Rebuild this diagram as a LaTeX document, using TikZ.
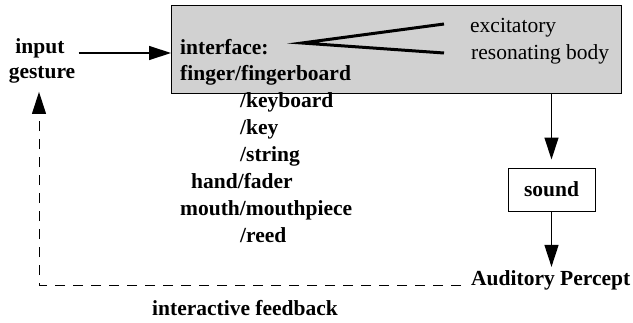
\documentclass[tikz,border=0pt]{standalone}
\usepackage{fontspec}
\setmainfont{Liberation Serif}
\usetikzlibrary{arrows.meta}
\begin{document}
\begin{tikzpicture}[x=1pt,y=-1pt,
  txt/.style={inner sep=0pt,font=\fontsize{21.5}{26}\selectfont\bfseries},
  rtxt/.style={inner sep=0pt,font=\fontsize{21.5}{26}\selectfont},
  arr/.style={line width=1.3pt,-{Triangle[length=22pt,width=14pt]}},
  fb/.style={line width=1pt,dash pattern=on 10pt off 8pt,-{Triangle[length=22pt,width=14pt]}},
  wedge/.style={line width=3pt},
  boxfill/.style={draw,line width=1pt,fill=black!18,inner sep=0pt}]
\useasboundingbox (0,0) rectangle (633,322);

% interface box
\node[boxfill,anchor=north west,minimum width=450pt,minimum height=88pt] (box) at (171,5) {};

% input gesture
\node[txt,anchor=base] (input) at (40,53) {input};
\node[txt,anchor=base] (gesture) at (42,78) {gesture};

% interface text
\node[txt,anchor=base west] (iface) at (180,54) {interface:};
\node[txt,anchor=base west] (finger) at (180,80) {finger/fingerboard};
\node[txt,anchor=base west] (keyboard) at (240,107) {/keyboard};
\node[txt,anchor=base west] (key) at (240,134) {/key};
\node[txt,anchor=base west] (string) at (240,161) {/string};
\node[txt,anchor=base west] (hand) at (191,188) {hand/fader};
\node[txt,anchor=base west] (mouth) at (180,215) {mouth/mouthpiece};
\node[txt,anchor=base west] (reed) at (240,242) {/reed};

% excitation and resonance
\node[rtxt,anchor=base west] (exc) at (470,32) {excitatory};
\node[rtxt,anchor=base west] (res) at (471,59) {resonating body};
\coordinate (apex) at (302,43);
\coordinate (excend) at (444,24);
\coordinate (resend) at (444,53);
\draw[wedge] (excend) -- (apex) -- (resend);

% sound output
\node[draw,line width=1pt,minimum width=87pt,minimum height=43pt,inner sep=0pt,
      font=\fontsize{21.5}{26}\selectfont\bfseries] (sound) at (551.5,189.5) {sound};
\node[txt,anchor=base west] (percept) at (471,285) {Auditory Percept};
\node[txt,anchor=base] (fblabel) at (245,315) {interactive feedback};

% connectors
\draw[arr] ([xshift=14pt]input.base east) -- (input.base east -| box.west);
\draw[arr,shorten >=8pt] (box.south -| sound.north) -- (sound.north);
\draw[arr,shorten >=3pt] (sound.south) -- (sound.south |- percept.north);
\draw[fb] ([xshift=-10pt]percept.base west) -| ([xshift=-3pt,yshift=-9pt]gesture.south);
\end{tikzpicture}
\end{document}
